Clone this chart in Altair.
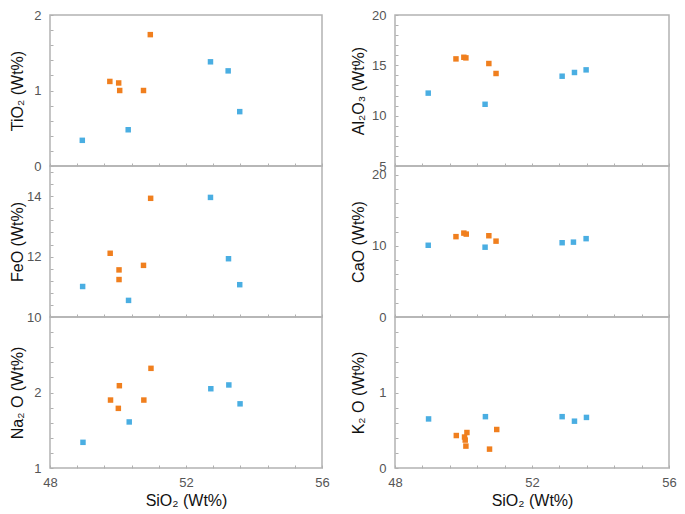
import altair as alt
import numpy as np
import pandas as pd

ORANGE = "#F07F1E"
BLUE = "#4AAEE2"

# ---- data (SiO2 vs oxide, Wt%) ----
tio2_orange_x = [49.76, 50.02, 50.05, 50.75, 50.95]
tio2_orange_y = [1.12, 1.10, 1.00, 1.00, 1.74]
tio2_blue_x = [48.95, 50.30, 52.72, 53.24, 53.58]
tio2_blue_y = [0.34, 0.48, 1.38, 1.26, 0.72]

feo_orange_x = [49.77, 50.03, 50.03, 50.75, 50.96]
feo_orange_y = [12.11, 11.56, 11.24, 11.71, 13.93]
feo_blue_x = [48.96, 50.31, 52.72, 53.25, 53.58]
feo_blue_y = [11.01, 10.55, 13.96, 11.93, 11.07]

na2o_orange_x = [49.78, 50.04, 50.01, 50.76, 50.97]
na2o_orange_y = [1.90, 2.09, 1.79, 1.90, 2.32]
na2o_blue_x = [48.97, 50.33, 52.73, 53.26, 53.59]
na2o_blue_y = [1.34, 1.61, 2.05, 2.10, 1.85]

al2o3_orange_x = [49.78, 50.01, 50.07, 50.74, 50.95]
al2o3_orange_y = [15.64, 15.80, 15.74, 15.18, 14.19]
al2o3_blue_x = [48.97, 50.63, 52.88, 53.24, 53.58]
al2o3_blue_y = [12.24, 11.13, 13.92, 14.29, 14.55]

cao_orange_x = [49.78, 50.01, 50.08, 50.74, 50.95]
cao_orange_y = [11.28, 11.78, 11.64, 11.41, 10.65]
cao_blue_x = [48.97, 50.63, 52.88, 53.21, 53.58]
cao_blue_y = [10.07, 9.80, 10.43, 10.51, 11.00]

k2o_orange_x = [49.79, 50.03, 50.05, 50.07, 50.10, 50.76, 50.97]
k2o_orange_y = [0.43, 0.41, 0.37, 0.29, 0.47, 0.25, 0.51]
k2o_blue_x = [48.98, 50.64, 52.88, 53.24, 53.59]
k2o_blue_y = [0.65, 0.68, 0.68, 0.62, 0.67]

x_domain = [48, 56]
x_tick_step = 0.8
x_label_step = 4

FONT = "Liberation Sans"
W_LEFT, W_RIGHT, H = 272, 274, 151


def panel(title, domain, tick_step, tick_max, label_step, ox, oy, bx, by,
          bottom, width, title_x):
    df = pd.DataFrame({
        "SiO2": ox + bx,
        "val": oy + by,
        "group": ["A"] * len(ox) + ["B"] * len(bx),
    })
    yticks = [round(float(v), 3) for v in np.arange(domain[0], tick_max + 1e-9, tick_step)]
    xticks = [round(float(v), 3) for v in np.arange(x_domain[0], x_domain[1] + 1e-9, x_tick_step)]
    ylabel = (f"abs(datum.value/{label_step} - round(datum.value/{label_step})) < 0.001"
              " ? format(datum.value, 'd') : ''")
    xlabel = (f"abs(datum.value/{x_label_step} - round(datum.value/{x_label_step})) < 0.001"
              " ? format(datum.value, 'd') : ''")
    if bottom:
        xaxis = alt.Axis(values=xticks, offset=-3, tickSize=3, domain=False, grid=False,
                         labelExpr=xlabel, labelFlush=False, labelOverlap=False,
                         labelPadding=8, titlePadding=3, tickColor="#b0b0b0")
        xenc = alt.X("SiO2:Q", title="SiO₂ (Wt%)",
                     scale=alt.Scale(domain=x_domain, nice=False, zero=False), axis=xaxis)
    else:
        xaxis = alt.Axis(values=xticks, offset=-3, tickSize=3, domain=False, grid=False,
                         labels=False, tickColor="#b0b0b0")
        xenc = alt.X("SiO2:Q", title=None,
                     scale=alt.Scale(domain=x_domain, nice=False, zero=False), axis=xaxis)
    yaxis = alt.Axis(values=yticks, offset=-3, tickSize=3, domain=False, grid=False,
                     labelExpr=ylabel, labelOverlap=False, labelFlush=False,
                     labelPadding=9, titleX=title_x, tickColor="#b0b0b0")
    return alt.Chart(df).mark_square(size=30, opacity=1).encode(
        x=xenc,
        y=alt.Y("val:Q", title=title,
                scale=alt.Scale(domain=domain, nice=False, zero=False), axis=yaxis),
        color=alt.Color("group:N", scale=alt.Scale(domain=["A", "B"], range=[ORANGE, BLUE]),
                        legend=None),
    ).properties(width=width, height=H)


left = alt.vconcat(
    panel("TiO₂ (Wt%)", [0, 2], 0.2, 2, 1, tio2_orange_x, tio2_orange_y,
          tio2_blue_x, tio2_blue_y, False, W_LEFT, -28),
    panel("FeO (Wt%)", [10, 15], 0.4, 14.8, 2, feo_orange_x, feo_orange_y,
          feo_blue_x, feo_blue_y, False, W_LEFT, -28),
    panel("Na₂ O (Wt%)", [1, 3], 0.2, 2.8, 1, na2o_orange_x, na2o_orange_y,
          na2o_blue_x, na2o_blue_y, True, W_LEFT, -28),
    spacing=0, bounds="flush",
)
right = alt.vconcat(
    panel("Al₂O₃ (Wt%)", [5, 20], 1, 20, 5, al2o3_orange_x, al2o3_orange_y,
          al2o3_blue_x, al2o3_blue_y, False, W_RIGHT, -32),
    panel("CaO (Wt%)", [0, 21.2], 2, 20, 10, cao_orange_x, cao_orange_y,
          cao_blue_x, cao_blue_y, False, W_RIGHT, -32),
    panel("K₂ O (Wt%)", [0, 2], 0.2, 1.8, 1, k2o_orange_x, k2o_orange_y,
          k2o_blue_x, k2o_blue_y, True, W_RIGHT, -32),
    spacing=0, bounds="flush",
)

chart = alt.hconcat(left, right, spacing=19).properties(
    padding=0
).configure_view(
    stroke="#b3b3b3", strokeWidth=1.5
).configure_axis(
    labelFont=FONT, labelFontSize=13, labelColor="#555555",
    titleFont=FONT, titleFontSize=16, titleFontWeight="normal", titleColor="#111111",
)

chart.save("out.html", embed_options={"renderer": "svg", "actions": False})
